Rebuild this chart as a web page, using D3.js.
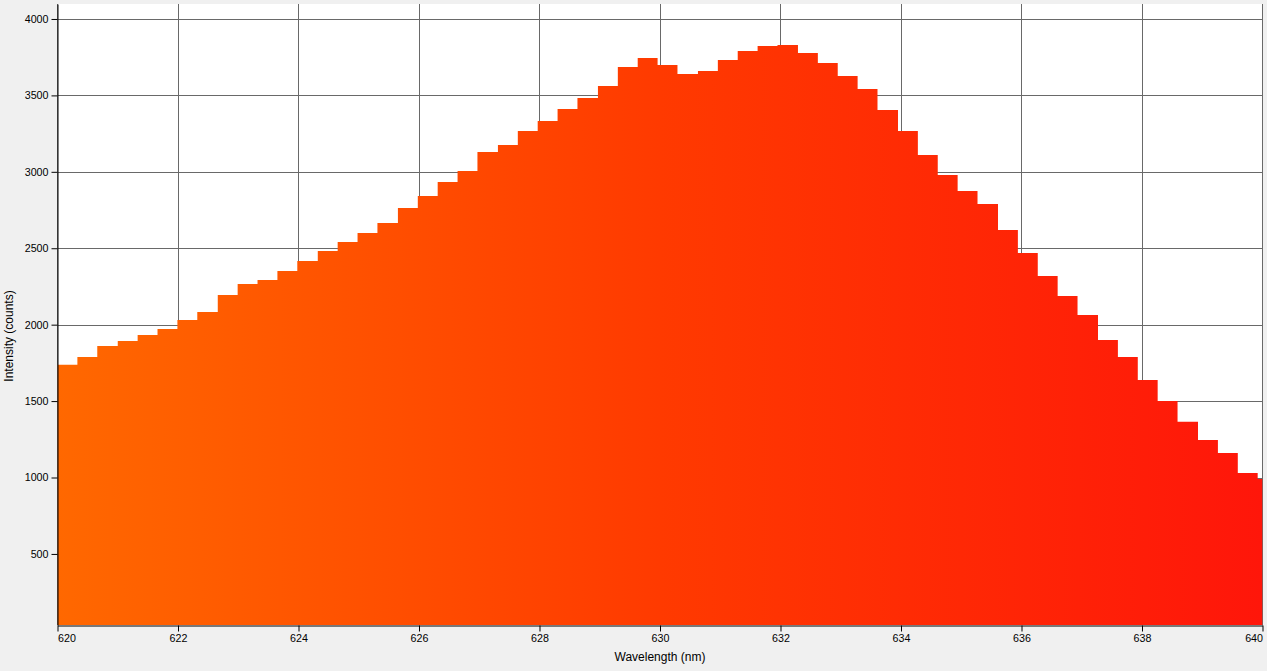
<!DOCTYPE html>
<html>
<head>
<meta charset="utf-8">
<title>Spectrum</title>
<script src="https://cdn.jsdelivr.net/npm/d3@7"></script>
<style>
body{
	margin: 0;
	background: #f0f0f0;
	overflow: hidden;
}
.tick text{
	font-family: "Liberation Sans", Arial, sans-serif;
	font-size: 10.7px;
	fill: #000;
}
.title{
	font-family: "Liberation Sans", Arial, sans-serif;
	font-size: 12px;
	fill: #000;
}
</style>
</head>
<body>
<svg class="chart"></svg>
<script>

// data: left edge of each spectrometer bin (nm) and its intensity (counts)
var wavelengths = [
	620.00, 620.33, 620.66, 621.00, 621.33, 621.66, 621.99, 622.32, 622.66, 622.99,
	623.32, 623.65, 623.98, 624.32, 624.65, 624.98, 625.31, 625.65, 625.98, 626.31,
	626.64, 626.97, 627.31, 627.64, 627.97, 628.30, 628.63, 628.97, 629.30, 629.63,
	629.96, 630.29, 630.63, 630.96, 631.29, 631.62, 631.95, 632.29, 632.62, 632.95,
	633.28, 633.61, 633.95, 634.28, 634.61, 634.94, 635.27, 635.61, 635.94, 636.27,
	636.60, 636.93, 637.27, 637.60, 637.93, 638.26, 638.59, 638.93, 639.26, 639.59,
	639.92
];
var intensity = [
	1737, 1789, 1861, 1893, 1933, 1972, 2031, 2083, 2194, 2266,
	2292, 2351, 2417, 2482, 2541, 2600, 2665, 2764, 2842, 2934,
	3006, 3130, 3176, 3267, 3333, 3411, 3483, 3562, 3686, 3745,
	3699, 3640, 3660, 3732, 3791, 3823, 3830, 3778, 3712, 3627,
	3542, 3405, 3267, 3110, 2979, 2875, 2790, 2620, 2469, 2319,
	2188, 2064, 1900, 1789, 1638, 1501, 1364, 1246, 1161, 1030,
	991
];
var xTicks = [620, 622, 624, 626, 628, 630, 632, 634, 636, 638, 640];
var yTicks = [500, 1000, 1500, 2000, 2500, 3000, 3500, 4000];

var W = 1267, H = 671;
var plot = {left: 57.5, right: 1262.5, top: 4, bottom: 625};

var svg = d3.select(".chart")
	.attr("width", W)
	.attr("height", H);

var x = d3.scaleLinear().domain([620, 640]).range([plot.left, plot.right]);
var y = d3.scaleLinear().domain([35, 4098]).range([plot.bottom, plot.top]);

// plot background
svg.append("rect")
	.attr("x", plot.left)
	.attr("y", plot.top)
	.attr("width", plot.right - plot.left)
	.attr("height", plot.bottom - plot.top)
	.attr("fill", "#fff");

// grid
svg.append("g").selectAll("line")
	.data(yTicks)
	.enter().append("line")
	.attr("x1", plot.left).attr("x2", plot.right)
	.attr("y1", function(d){ return Math.round(y(d)) + 0.5; })
	.attr("y2", function(d){ return Math.round(y(d)) + 0.5; })
	.attr("stroke", "#696969");

svg.append("g").selectAll("line")
	.data(xTicks)
	.enter().append("line")
	.attr("x1", function(d){ return Math.round(x(d) - 0.5) + 0.5; })
	.attr("x2", function(d){ return Math.round(x(d) - 0.5) + 0.5; })
	.attr("y1", plot.top).attr("y2", plot.bottom)
	.attr("stroke", "#696969");

// gradient fill
var defs = svg.append("defs");
var grad = defs.append("linearGradient")
	.attr("id", "spec")
	.attr("gradientUnits", "userSpaceOnUse")
	.attr("x1", plot.left).attr("y1", 0)
	.attr("x2", plot.right).attr("y2", 0);
grad.append("stop").attr("offset", "0%").attr("stop-color", "#ff6800");
grad.append("stop").attr("offset", "50%").attr("stop-color", "#ff3a00");
grad.append("stop").attr("offset", "100%").attr("stop-color", "#ff160a");

defs.append("clipPath").attr("id", "plotclip")
	.append("rect")
	.attr("x", plot.left).attr("y", plot.top)
	.attr("width", plot.right - plot.left).attr("height", plot.bottom - plot.top);

// step shape: each bin runs to the next bin's edge, last one to 640
var pts = wavelengths.map(function(w, i){ return [w, intensity[i]]; });
pts.push([640, intensity[intensity.length - 1]]);

var area = d3.area()
	.curve(d3.curveStepAfter)
	.x(function(d){ return x(d[0]); })
	.y0(plot.bottom)
	.y1(function(d){ return y(d[1]); });

svg.append("path")
	.datum(pts)
	.attr("clip-path", "url(#plotclip)")
	.attr("fill", "url(#spec)")
	.attr("d", area);

// axes
var yAxis = d3.axisLeft(y)
	.tickValues(yTicks)
	.tickFormat(d3.format("d"))
	.tickSize(6)
	.tickSizeOuter(0)
	.tickPadding(3);

var xAxis = d3.axisBottom(x)
	.tickValues(xTicks)
	.tickFormat(d3.format("d"))
	.tickSize(6)
	.tickSizeOuter(0)
	.tickPadding(3);

var gy = svg.append("g")
	.attr("transform", "translate(" + plot.left + ",0)")
	.call(yAxis);

var gx = svg.append("g")
	.attr("transform", "translate(0," + (plot.bottom + 0.5) + ")")
	.call(xAxis);

gy.selectAll("text").attr("font-family", null).attr("font-size", null);
gx.selectAll("text").attr("font-family", null).attr("font-size", null)
	.style("text-anchor", function(d, i){
		if(i === 0) return "start";
		if(i === xTicks.length - 1) return "end";
		return "middle";
	});

svg.selectAll(".domain").attr("stroke", "#000");
svg.selectAll(".tick line").attr("stroke", "#000");

// axis titles
svg.append("text")
	.attr("class", "title")
	.attr("text-anchor", "middle")
	.attr("transform", "translate(13,336) rotate(-90)")
	.text("Intensity (counts)");

svg.append("text")
	.attr("class", "title")
	.attr("text-anchor", "middle")
	.attr("x", (plot.left + plot.right) / 2)
	.attr("y", 661)
	.text("Wavelength (nm)");

</script>
</body>
</html>
